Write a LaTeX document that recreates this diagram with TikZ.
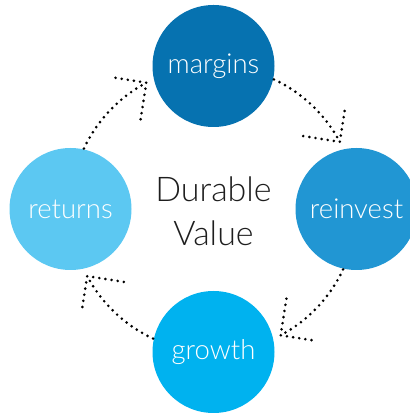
\documentclass[tikz,border=0pt]{standalone}
\usepackage{fontspec}
\setmainfont{Lato Light}
\usetikzlibrary{calc}
\definecolor{cMargins}{RGB}{6,114,176}
\definecolor{cReinvest}{RGB}{33,150,211}
\definecolor{cReturns}{RGB}{92,200,242}
\definecolor{cGrowth}{RGB}{0,178,239}
\definecolor{cText}{RGB}{30,30,30}
\tikzset{
  stage/.style={circle, minimum size=122pt, inner sep=0pt, text=white,
    font=\fontsize{27.5}{30}\selectfont},
  flow/.style={line width=2.9pt, line cap=round, dash pattern=on 0pt off 6.2pt, black},
}
\begin{document}
\begin{tikzpicture}[x=1pt,y=1pt]
  \useasboundingbox (0,0) rectangle (409,417);
  \coordinate (hub) at (213.5,208);
  % the four stages sit on a ring around the centre label
  \node[stage, fill=cMargins]  (margins)  at ($(hub)+(90:143)$)  {margins};
  \node[stage, fill=cReinvest] (reinvest) at ($(hub)+(0:143)$)   {reinvest};
  \node[stage, fill=cGrowth]   (growth)   at ($(hub)+(270:143)$) {growth};
  \node[stage, fill=cReturns]  (returns)  at ($(hub)+(180:143)$) {returns};
  \node[text=cText, align=center, font=\fontsize{34}{44}\selectfont] (core) at ($(hub)+(0,-2)$)
    {Durable\\Value};
  % dotted arrows running clockwise along the same ring
  \foreach \src/\dst [count=\i] in {180/90, 90/0, 0/-90, -90/-180} {
    \pgfmathsetmacro{\sa}{\src-25}
    \pgfmathsetmacro{\ea}{\dst+28}
    \coordinate (s\i) at ($(hub)+(\sa:143)$);
    \coordinate (t\i) at ($(hub)+(\ea:143)$);
    \draw[flow] (s\i) arc[start angle=\sa, end angle=\ea, radius=143];
    \draw[flow] ($(t\i)+(\ea+98+45:37)$) -- (t\i) -- ($(t\i)+(\ea+98-45:37)$);
  }
\end{tikzpicture}
\end{document}
